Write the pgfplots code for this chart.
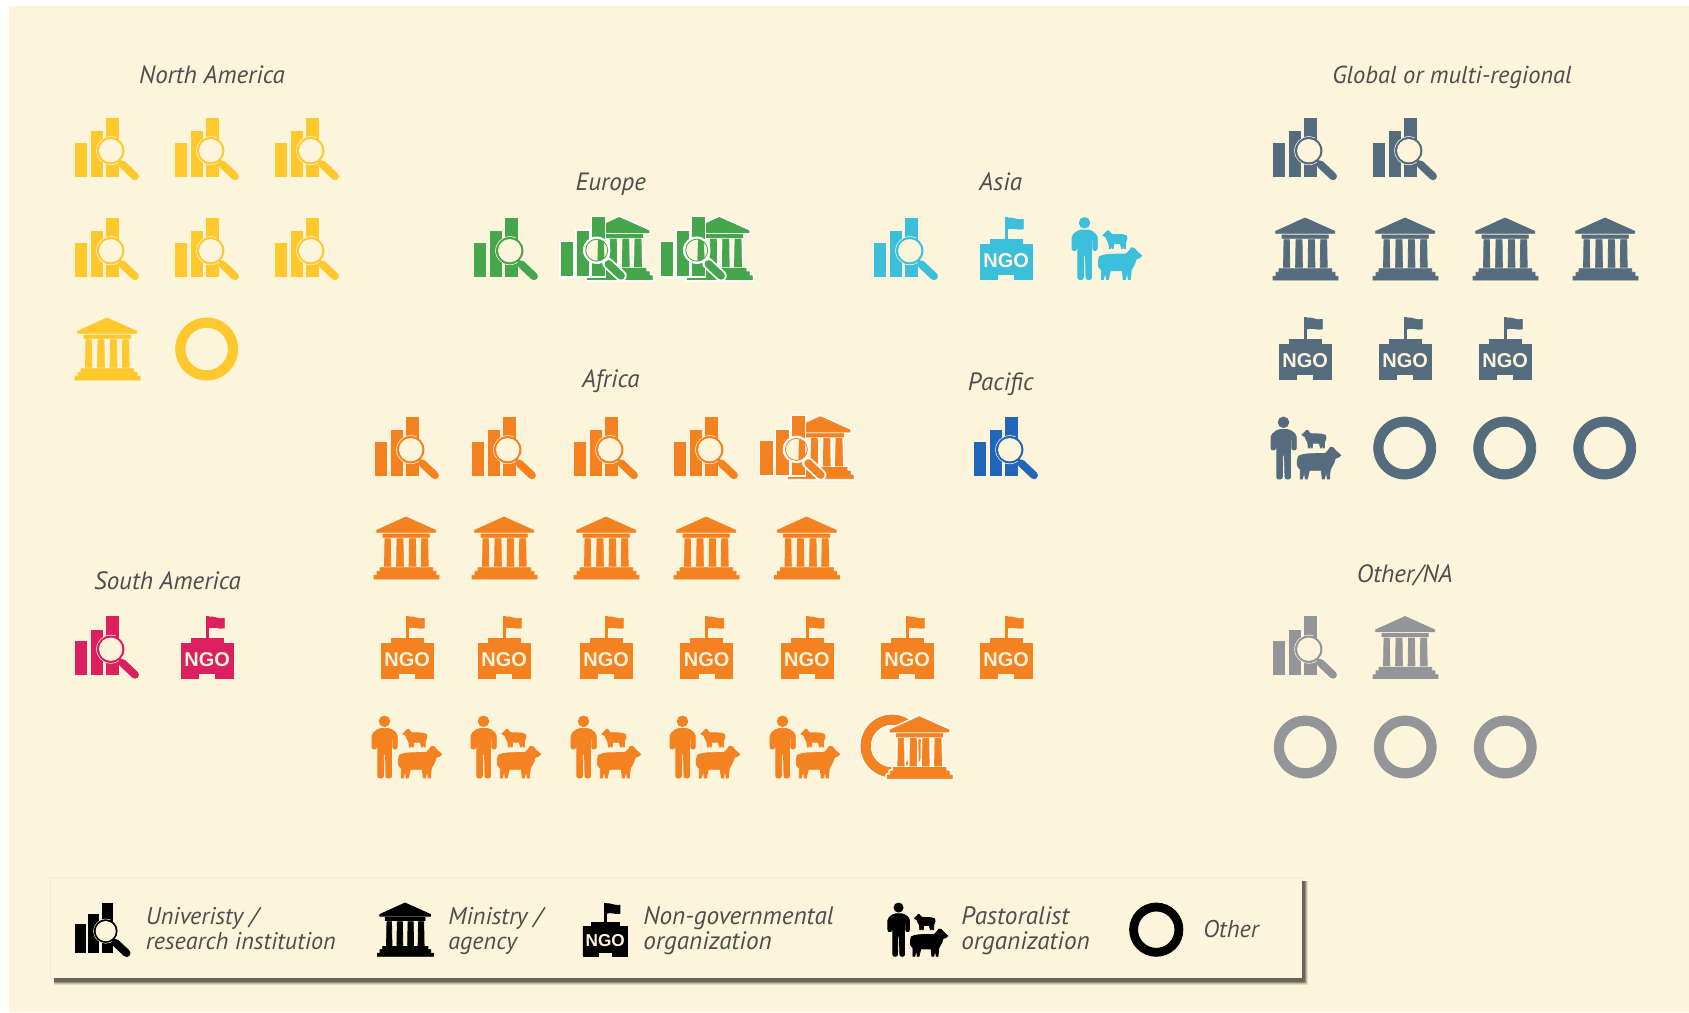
\documentclass[border=0pt]{standalone}
\usepackage{fontspec}
\setmainfont{PT Sans}
\newfontfamily\ngofont{Liberation Sans}
\usepackage{pgfplots}
\pgfplotsset{compat=1.18}
\definecolor{iconbg}{HTML}{FDF4DC}
\definecolor{cY}{HTML}{FFC82C}
\definecolor{cG}{HTML}{46A64B}
\definecolor{cC}{HTML}{3BBFDB}
\definecolor{cO}{HTML}{F58220}
\definecolor{cB}{HTML}{2166B8}
\definecolor{cR}{HTML}{DC1F5F}
\definecolor{cS}{HTML}{546C7D}
\definecolor{cA}{HTML}{939598}
\definecolor{ctext}{HTML}{4D4D4D}
\tikzset{P/.style={x=0.5pt,y=-0.5pt}}
\newcommand{\Shift}[2]{\pgftransformshift{\pgfpoint{#1*0.5pt}{-#2*0.5pt}}}
\def\unibars{(0,25) rectangle (11.7,58) (16,13.7) rectangle (27.7,58) (31.7,0) rectangle (43.3,58)}
\def\minpath{(32,0) -- (61.7,13.3) -- (61.7,15.3) -- (2.7,15.3) -- (2.7,13.3) -- cycle
 (9,17) rectangle (55.3,20.3)
 (11,21.7) -- (16.3,21.7) -- (16.8,49.3) -- (10.5,49.3) -- cycle
 (23,21.7) -- (29,21.7) -- (29.4,49.3) -- (22.6,49.3) -- cycle
 (35.5,21.7) -- (41.5,21.7) -- (41.9,49.3) -- (35.1,49.3) -- cycle
 (47.7,21.7) -- (53.7,21.7) -- (54.2,49.3) -- (47.2,49.3) -- cycle
 (6,50.7) -- (58.7,50.7) -- (58.7,54.3) -- (62,54.3) -- (62,58.3) -- (65,58.3) -- (65,62) -- (0,62) -- (0,58.3) -- (3,58.3) -- (3,54.3) -- (6,54.3) -- cycle}
\def\ringpath{(31.7,31) circle[radius=31] (31.7,31) circle[radius=21.7]}
\def\sheeppath{(1,9) .. controls (8,5) and (22,7) .. (28,6) -- (31,3) -- (33,0) -- (36,0.5) -- (38,3) -- (43.4,8) -- (41,10) -- (38,11) .. controls (37,15) .. (33,22) -- (32,31.7) -- (30,31.7) -- (29,24) -- (27,31.7) -- (25,31.7) -- (24,23) -- (12,23) -- (10,31.7) -- (8,31.7) -- (7,24) -- (5,31.7) -- (3,31.7) -- (3,22) .. controls (0,19) .. (0,14) -- cycle}
% university icon, plain
\pgfdeclareplotmark{uni}{%
 \fill[P] \unibars;
 \fill[P,iconbg] (35.7,32.7) circle[radius=14];
 \fill[P] (31.7,20) rectangle (43.3,26);
 \fill[P] (35.7,32.7) circle[radius=13.3];
 \fill[P,iconbg] (35.7,32.7) circle[radius=11.2];
 \draw[P,line width=1.5pt] (44,42) -- (47,45.5);
 \draw[P,line width=3.9pt,line cap=round] (47.5,46.5) -- (60,58.3);
}
\pgfdeclareplotmark{min}{\fill[P] \minpath;}
\pgfdeclareplotmark{oth}{\fill[P,even odd rule] \ringpath;}
\pgfdeclareplotmark{ngo}{%
 \begin{pgfscope}\Shift{6.3}{0}
 \fill[P] (0,27.7) -- (10,27.7) -- (10,22.3) -- (42,22.3) -- (42,27.7) -- (52,27.7) -- (52,62) -- (34.5,62) -- (34.5,57.3) -- (17.5,57.3) -- (17.5,62) -- (0,62) -- cycle;
 \fill[P] (25,0) rectangle (27,22.3);
 \fill[P] (27,1) .. controls (33,0) and (37,4) .. (43,2.5) -- (43,12) .. controls (37,13) and (33,10) .. (27,12) -- cycle;
 \end{pgfscope}
 \node[transform shape,text=iconbg,inner sep=0pt,font=\ngofont\bfseries\fontsize{10}{10}\selectfont] at (16.1pt,-21.65pt) {NGO};
}
\pgfdeclareplotmark{pas}{%
 \begin{pgfscope}\Shift{-2}{0}
 \fill[P] (12.5,5.3) circle[radius=5.3];
 \fill[P,rounded corners=1pt] (7,12.5) -- (18.5,12.5) -- (25.3,18) -- (25.3,33) -- (20.8,33) -- (20.8,21) -- (19.5,21) -- (19.5,62) -- (14,62) -- (13.5,37) -- (11.8,37) -- (11.3,62) -- (5.8,62) -- (5.8,21) -- (4.6,21) -- (4.6,33) -- (0,33) -- (0,18) -- cycle;
 \begin{pgfscope}\Shift{26.3}{30.3} \fill[P] \sheeppath; \end{pgfscope}
 \begin{pgfscope}\Shift{55}{13.3}\pgftransformxscale{-0.553}\pgftransformyscale{0.558} \fill[P] \sheeppath; \end{pgfscope}
 \end{pgfscope}
}
% composite icons with white halo
\newcommand{\halouni}[1]{%
 \begin{pgfscope}\Shift{#1}{0}
 \draw[P,white,line width=2pt,line join=round] \minpath;
 \fill[P] \minpath;
 \end{pgfscope}
 \draw[P,white,line width=2pt] \unibars;
 \fill[P] \unibars;
 \fill[P,white] (35.7,32.7) circle[radius=13.3];
 \fill[P,iconbg] (35.7,32.7) circle[radius=11];
 \begin{scope}
 \clip[P] (35.7,32.7) circle[radius=11];
 \begin{pgfscope}\Shift{#1}{0} \fill[P] \minpath; \end{pgfscope}
 \end{scope}
 \draw[P,white,line width=5.7pt,line cap=round] (47,46) -- (60,58.3);
 \draw[P,line width=3.9pt,line cap=round] (47.5,46.5) -- (60,58.3);
}
\pgfdeclareplotmark{unimina}{\halouni{27.6}}
\pgfdeclareplotmark{uniminb}{\halouni{26.3}}
\pgfdeclareplotmark{othmin}{%
 \draw[P,white,line width=2pt] \ringpath;
 \fill[P,even odd rule] \ringpath;
 \begin{pgfscope}\Shift{27}{1.7}
 \draw[P,white,line width=2pt,line join=round] \minpath;
 \fill[P] \minpath;
 \end{pgfscope}
}
\begin{document}
\begin{tikzpicture}
\begin{axis}[scale only axis,width=844.5pt,height=506pt,xmin=0,xmax=1689,ymin=0,ymax=1012,
  y dir=reverse,hide axis,clip=false]
\fill[white] (axis cs:0,0) rectangle (axis cs:1689,1012);
\fill[iconbg] (axis cs:9,6) rectangle (axis cs:1689,1012);
% legend box: soft shadow
\fill[black,opacity=0.04] (axis cs:50,877) rectangle (axis cs:1303,979);
\fill[black,opacity=0.10] (axis cs:54,881) rectangle (axis cs:1308,985);
\fill[black,opacity=0.16] (axis cs:54,881) rectangle (axis cs:1307,984);
\fill[black,opacity=0.22] (axis cs:54,881) rectangle (axis cs:1306,983);
\fill[black,opacity=0.28] (axis cs:54,881) rectangle (axis cs:1305,982);
\fill[iconbg] (axis cs:51,878) rectangle (axis cs:1302,978);
% North America
\addplot[only marks,mark=uni,color=cY] coordinates {(75,118)(175,118)(275,118)(75,218)(175,218)(275,218)};
\addplot[only marks,mark=min,color=cY] coordinates {(75,318)};
\addplot[only marks,mark=oth,color=cY] coordinates {(175,318)};
% Europe
\addplot[only marks,mark=uni,color=cG] coordinates {(474,218)};
\addplot[only marks,mark=uniminb,color=cG] coordinates {(561,217.5)(661,217.5)};
% Asia
\addplot[only marks,mark=uni,color=cC] coordinates {(874,218)};
\addplot[only marks,mark=ngo,color=cC] coordinates {(974,217)};
\addplot[only marks,mark=pas,color=cC] coordinates {(1074,217.5)};
% Africa
\addplot[only marks,mark=uni,color=cO] coordinates {(375,417)(472,417)(574,417)(674,417)};
\addplot[only marks,mark=unimina,color=cO] coordinates {(760.7,416.7)};
\addplot[only marks,mark=min,color=cO] coordinates {(374,517)(472,517)(574,517)(674,517)(774.5,517)};
\addplot[only marks,mark=ngo,color=cO] coordinates {(375,616)(472,616)(574,616)(674.5,616)(774.7,616)(875,616)(974,616)};
\addplot[only marks,mark=pas,color=cO] coordinates {(374,716)(473,716)(573,716)(672,716)(772,716)};
\addplot[only marks,mark=othmin,color=cO] coordinates {(860.3,715)};
% Pacific
\addplot[only marks,mark=uni,color=cB] coordinates {(974,417)};
% South America
\addplot[only marks,mark=uni,color=cR] coordinates {(75,616.5)};
\addplot[only marks,mark=ngo,color=cR] coordinates {(175,616)};
% Global
\addplot[only marks,mark=uni,color=cS] coordinates {(1273,118)(1373,118)};
\addplot[only marks,mark=min,color=cS] coordinates {(1273,218)(1373,218)(1473,218)(1573,218)};
\addplot[only marks,mark=ngo,color=cS] coordinates {(1273,317)(1373,317)(1473,317)};
\addplot[only marks,mark=pas,color=cS] coordinates {(1273,417)};
\addplot[only marks,mark=oth,color=cS] coordinates {(1373,417)(1473,417)(1573,417)};
% Other/NA
\addplot[only marks,mark=uni,color=cA] coordinates {(1273,616.5)};
\addplot[only marks,mark=min,color=cA] coordinates {(1373,616.5)};
\addplot[only marks,mark=oth,color=cA] coordinates {(1273.5,716)(1373.5,716)(1473.5,716)};
% legend icons
\addplot[only marks,mark=uni,color=black,mark options={scale=0.86}] coordinates {(75,903)};
\addplot[only marks,mark=min,color=black,mark options={scale=0.86}] coordinates {(377.5,903)};
\addplot[only marks,mark=ngo,color=black,mark options={scale=0.86}] coordinates {(577.5,903)};
\addplot[only marks,mark=pas,color=black,mark options={scale=0.86}] coordinates {(889.5,903)};
\addplot[only marks,mark=oth,color=black,mark options={scale=0.86}] coordinates {(1129,903)};
% labels
\tikzset{reg/.style={text=ctext,font=\itshape\fontsize{12.5}{15}\selectfont,inner sep=0pt,anchor=base}}
\node[reg] at (axis cs:212,83) {North America};
\node[reg] at (axis cs:610.8,190.6) {Europe};
\node[reg] at (axis cs:1000.7,190.6) {Asia};
\node[reg] at (axis cs:610.8,387.5) {Africa};
\node[reg] at (axis cs:1000.7,390.5) {Pacific};
\node[reg] at (axis cs:167.5,589.2) {South America};
\node[reg,font=\itshape\fontsize{12.25}{15}\selectfont] at (axis cs:1452,83) {Global or multi-regional};
\node[reg] at (axis cs:1404.7,582) {Other/NA};
\tikzset{leg/.style={text=ctext,font=\itshape\fontsize{12.1}{12.1}\selectfont,inner sep=0pt,anchor=base west},
  legb/.style={leg,font=\itshape\fontsize{12.6}{12.6}\selectfont}}
\node[leg] at (axis cs:145.5,924) {Univeristy /};
\node[leg] at (axis cs:145.5,949.3) {research institution};
\node[leg] at (axis cs:448,924) {Ministry /};
\node[leg] at (axis cs:448,949.3) {agency};
\node[legb] at (axis cs:643,924) {Non-governmental};
\node[legb] at (axis cs:643,949.3) {organization};
\node[legb] at (axis cs:961,924) {Pastoralist};
\node[legb] at (axis cs:961,949.3) {organization};
\node[leg] at (axis cs:1203,937.3) {Other};
\end{axis}
\end{tikzpicture}
\end{document}
